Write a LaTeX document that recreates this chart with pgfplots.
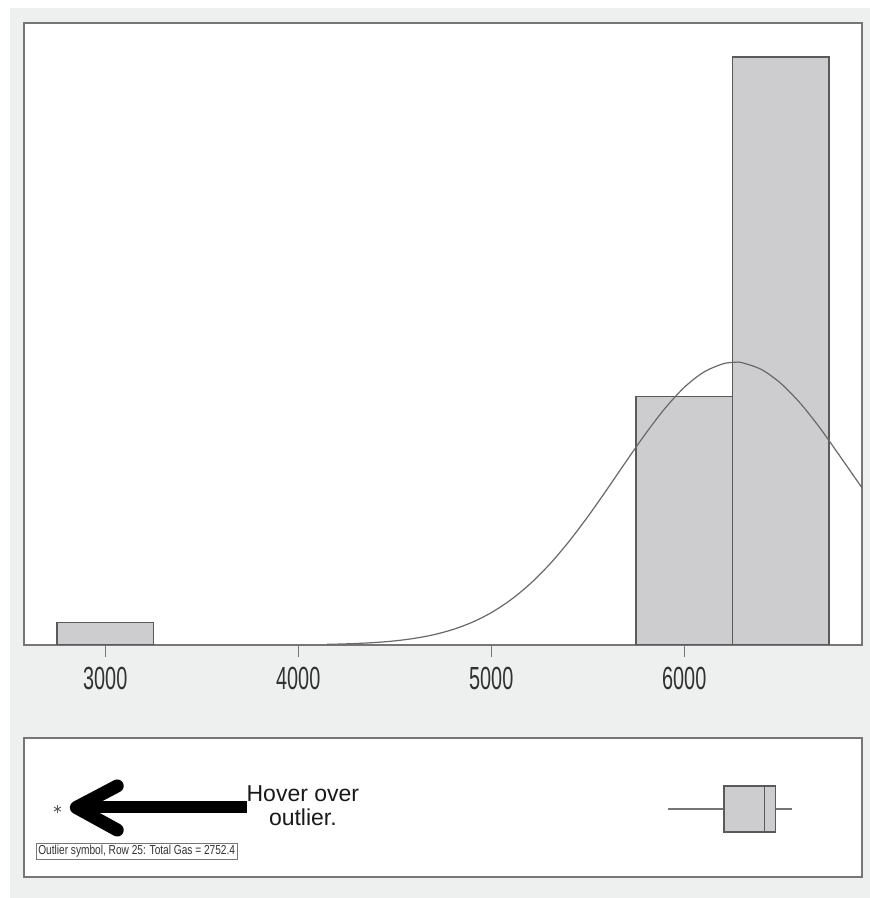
\documentclass[border=0pt]{standalone}
\usepackage{pgfplots}
\pgfplotsset{compat=1.18}
\usepackage{fontspec}
\setmainfont{Liberation Sans}
\definecolor{bggray}{RGB}{238,239,239}
\definecolor{barfill}{RGB}{205,205,208}
\definecolor{bardraw}{RGB}{90,90,90}
\definecolor{framec}{RGB}{118,118,118}
\definecolor{curvec}{RGB}{105,105,105}
\definecolor{ticklab}{RGB}{50,50,50}
\begin{document}
\begin{tikzpicture}
\fill[white] (0pt,0pt) rectangle (870pt,898pt);
\fill[bggray] (10pt,0pt) rectangle (870pt,890pt);
\begin{axis}[
  at={(24pt,253pt)}, anchor=south west, scale only axis,
  width=838pt, height=622pt,
  xmin=2579, xmax=6921, ymin=0, ymax=27.5,
  axis background/.style={fill=white},
  axis line style={draw=framec, line width=1.6pt},
  xtick={3000,4000,5000,6000},
  xticklabels={\scalebox{0.62}[1]{3000},\scalebox{0.62}[1]{4000},\scalebox{0.62}[1]{5000},\scalebox{0.62}[1]{6000}},
  ytick=\empty,
  tick align=outside, xtick pos=bottom, major tick length=12pt,
  tick style={draw=framec, line width=1.2pt},
  xticklabel style={font=\fontsize{32}{32}\selectfont, text=ticklab, inner sep=0pt, yshift=-10pt},
]
\addplot[fill=barfill, draw=bardraw, line width=1.2pt] coordinates {(2750,0) (2750,1) (3250,1) (3250,0)} -- cycle;
\addplot[fill=barfill, draw=bardraw, line width=1.2pt] coordinates {(5750,0) (5750,11) (6250,11) (6250,0)} -- cycle;
\addplot[fill=barfill, draw=bardraw, line width=1.2pt] coordinates {(6250,0) (6250,26) (6750,26) (6750,0)} -- cycle;
\addplot[smooth, draw=curvec, line width=1.2pt] coordinates {
(4150,0.03) (4200,0.038) (4300,0.066) (4400,0.111) (4500,0.182) (4600,0.291)
(4700,0.451) (4800,0.681) (4900,1.000) (5000,1.429) (5100,1.989) (5200,2.693)
(5300,3.546) (5400,4.547) (5500,5.672) (5600,6.883) (5700,8.131) (5800,9.347)
(5900,10.46) (6000,11.39) (6100,12.06) (6200,12.43) (6262,12.5) (6300,12.48)
(6400,12.18) (6500,11.57) (6600,10.70) (6700,9.63) (6800,8.43) (6921,6.95)};
\end{axis}
\begin{axis}[
  at={(24pt,21pt)}, anchor=south west, scale only axis,
  width=838pt, height=139pt,
  xmin=2579, xmax=6921, ymin=0, ymax=1,
  axis background/.style={fill=white},
  axis line style={draw=framec, line width=1.6pt},
  xtick=\empty, ytick=\empty, clip=false,
]
\addplot[draw=framec, line width=1.4pt] coordinates {(5917,0.489) (6206,0.489)};
\addplot[draw=framec, line width=1.4pt] coordinates {(6474,0.489) (6557,0.489)};
\addplot[fill=barfill, draw=bardraw, line width=1.2pt] coordinates {(6206,0.324) (6474,0.324) (6474,0.655) (6206,0.655)} -- cycle;
\addplot[draw=bardraw, line width=1.2pt] coordinates {(6415,0.324) (6415,0.655)};
\addplot[only marks, mark=asterisk, mark size=4pt, draw=bardraw, mark options={line width=0.9pt}] coordinates {(2752.4,0.489)};
\draw[black, line width=12pt, line cap=butt] (axis cs:3734,0.5) -- (axis cs:2870,0.5);
\draw[black, line width=13pt, line cap=round, line join=round] (axis cs:3062,0.655) -- (axis cs:2850,0.5) -- (axis cs:3062,0.338);
\node[align=center, font=\fontsize{23}{24}\selectfont, text=black!90] at (axis cs:4024,0.51) {Hover over\\outlier.};
\node[draw=framec, fill=white, inner sep=2pt, line width=0.8pt, font=\fontsize{13}{13}\selectfont, text=ticklab] at (axis cs:3163,0.187) {\scalebox{0.78}[1]{Outlier symbol, Row 25: Total Gas = 2752.4}};
\end{axis}
\end{tikzpicture}
\end{document}
